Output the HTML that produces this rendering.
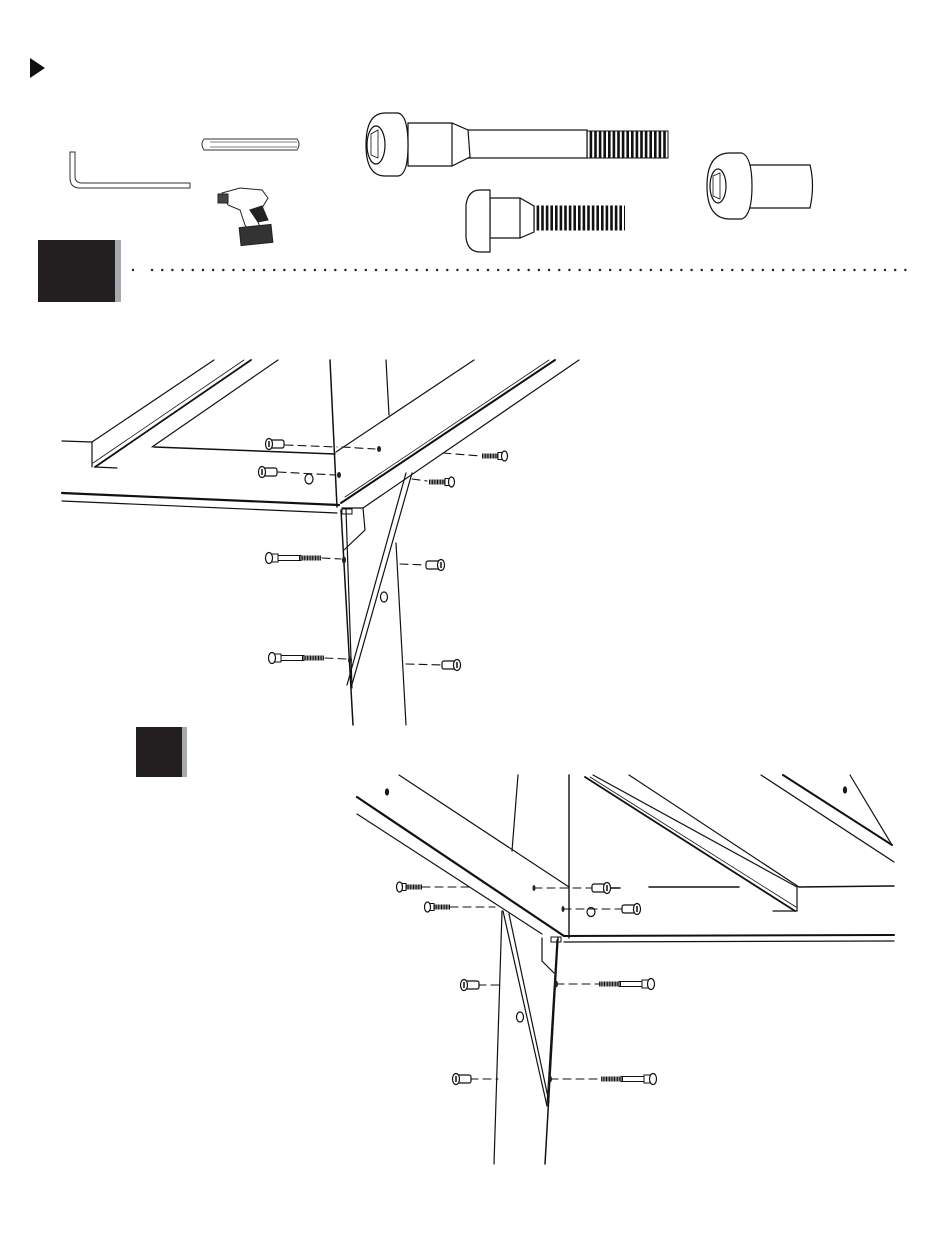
<!DOCTYPE html>
<html><head><meta charset="utf-8"><style>html,body{margin:0;padding:0;background:#fff}svg{display:block}</style></head>
<body>
<svg width="950" height="1241" viewBox="0 0 950 1241" xmlns="http://www.w3.org/2000/svg">
<defs>
  <g id="capL" fill="#fff" stroke="#111" stroke-width="1.2">
    <rect x="4" y="-4" width="15" height="8" rx="2"/>
    <ellipse cx="4" cy="0" rx="3.5" ry="5.5"/>
    <line x1="4" y1="-3" x2="4" y2="3" stroke-width="1.5"/>
  </g>
  <g id="shortL" stroke="#111">
    <line x1="9" y1="0" x2="26" y2="0" stroke-width="5" stroke-dasharray="1.1 0.5"/>
    <rect x="4" y="-3.5" width="6" height="7" fill="#fff" stroke-width="1"/>
    <ellipse cx="3.5" cy="0" rx="3" ry="5" fill="#fff" stroke-width="1.2"/>
  </g>
  <g id="longL" stroke="#111">
    <rect x="6" y="-2.5" width="30" height="5" fill="#fff" stroke-width="1"/>
    <line x1="34" y1="0" x2="56" y2="0" stroke-width="5" stroke-dasharray="1.1 0.5"/>
    <rect x="4" y="-4" width="9" height="8" fill="#fff" stroke-width="1"/>
    <ellipse cx="4" cy="0" rx="3.5" ry="5.5" fill="#fff" stroke-width="1.2"/>
  </g>
</defs>

<polygon points="30,58 45,68 30,78" fill="#111"/>

<path d="M70,152 L70,178 Q70,188 80,188 L190,188 L190,183 L82,183 Q75,183 75,176 L75,152 Z" fill="#fff" stroke="#333" stroke-width="1"/>
<path d="M204,139 L297,139 Q301,144 297,150 L204,150 Q200,144 204,139 Z" fill="#fff" stroke="#333" stroke-width="1"/>
<line x1="210" y1="142" x2="297" y2="142" stroke="#555" stroke-width="0.7"/>
<line x1="210" y1="147" x2="297" y2="147" stroke="#555" stroke-width="0.7"/>
<g stroke="#222" stroke-width="1" fill="#fff">
  <path d="M222,193 L240,188 L262,190 L268,198 L262,208 L250,210 L258,222 L262,232 L252,235 L245,225 L240,210 L228,205 Z"/>
  <rect x="240" y="226" width="32" height="18" fill="#333" transform="rotate(-6 256 235)"/>
  <path d="M250,210 L262,206 L268,220 L258,222 Z" fill="#222"/>
  <rect x="218" y="194" width="10" height="9" fill="#444"/>
</g>

<g stroke="#111" stroke-width="1.2" fill="#fff">
  <line x1="585" y1="144" x2="668" y2="144" stroke-width="27" stroke-dasharray="2.6 2"/>
  <rect x="586" y="131" width="82" height="27" fill="none" stroke-width="1"/>
  <rect x="465" y="130" width="122" height="28"/>
  <path d="M408,123 L452,123 L468,130 L470,157 L452,166 L408,166 Z"/>
  <line x1="452" y1="123" x2="452" y2="166"/>
  <path d="M398,113 Q408,115 408,145 Q408,175 398,176 L385,176 Q366,176 366,145 Q366,113 385,113 Z"/>
  <ellipse cx="376" cy="145" rx="9" ry="19"/>
  <path d="M371,134 L378,130 L378,158 L371,155 Z" stroke-width="0.8"/>
</g>
<g stroke="#111" stroke-width="1.2" fill="#fff">
  <line x1="532" y1="218" x2="625" y2="218" stroke-width="25" stroke-dasharray="2.6 2"/>
  <path d="M490,198 L520,198 L534,206 L534,232 L520,238 L490,238 Z"/>
  <line x1="520" y1="198" x2="520" y2="238"/>
  <path d="M480,190 Q468,190 466,205 L466,238 Q468,252 480,252 L490,252 L490,190 Z"/>
</g>
<g stroke="#111" stroke-width="1.2" fill="#fff">
  <path d="M745,165 L810,165 Q815,185 810,208 L745,208 Z"/>
  <path d="M742,153 Q752,157 752,186 Q752,215 742,219 L730,219 Q707,219 707,186 Q707,153 730,153 Z"/>
  <ellipse cx="718" cy="186" rx="8" ry="17"/>
  <path d="M713,176 L720,173 L720,199 L713,196 Z" stroke-width="0.8"/>
</g>

<rect x="38" y="240" width="77" height="62" fill="#231f20"/>
<rect x="115" y="240" width="6" height="62" fill="#a7a9ac"/>
<circle cx="133" cy="270" r="1.2" fill="#222"/>
<line x1="152" y1="270" x2="914" y2="270" stroke="#222" stroke-width="2.4" stroke-linecap="round" stroke-dasharray="0.1 10.08"/>

<g stroke="#111" stroke-width="1.2" fill="none" stroke-linecap="round">
  <line x1="214" y1="360" x2="92" y2="442"/>
  <line x1="251" y1="360" x2="95" y2="467" stroke-width="1.8"/>
  <line x1="244" y1="360" x2="93" y2="463" stroke-width="0.8"/>
  <line x1="278" y1="360" x2="152" y2="447"/>
  <line x1="92" y1="442" x2="92" y2="467"/>
  <line x1="95" y1="467" x2="117" y2="468"/>
  <line x1="62" y1="441" x2="92" y2="442"/>
  <line x1="154" y1="447" x2="335" y2="454" stroke-width="1.5"/>
  <line x1="62" y1="493" x2="339" y2="505" stroke-width="2.2"/>
  <line x1="62" y1="501" x2="337" y2="513"/>
  <line x1="330" y1="360" x2="337" y2="507" stroke-width="1.5"/>
  <line x1="386" y1="360" x2="389" y2="415"/>
  <line x1="336" y1="452" x2="474" y2="360"/>
  <line x1="341" y1="503" x2="555" y2="360" stroke-width="2"/>
  <line x1="345" y1="497" x2="549" y2="360" stroke-width="0.8"/>
  <line x1="363" y1="508" x2="579" y2="360"/>
  <path d="M342,508 L363,508 L365,530 L344,550"/>
  <rect x="342" y="509" width="10" height="5" stroke-width="1"/>
  <line x1="341" y1="510" x2="353" y2="725" stroke-width="1.5"/>
  <line x1="346" y1="510" x2="352" y2="688"/>
  <line x1="396" y1="543" x2="406" y2="725"/>
  <line x1="412" y1="473" x2="351" y2="688"/>
  <line x1="406" y1="473" x2="347" y2="685"/>
  <ellipse cx="384" cy="597" rx="3.5" ry="5"/>
  <ellipse cx="309" cy="479" rx="4" ry="5"/>
  <g stroke-dasharray="8 5" stroke-width="1.1">
    <line x1="285" y1="445" x2="337" y2="447"/>
    <line x1="342" y1="447" x2="375" y2="449"/>
    <line x1="278" y1="472" x2="335" y2="475"/>
    <line x1="443" y1="453" x2="481" y2="456"/>
    <line x1="412" y1="479" x2="427" y2="481"/>
    <line x1="322" y1="558" x2="341" y2="559"/>
    <line x1="400" y1="564" x2="427" y2="565"/>
    <line x1="325" y1="658" x2="346" y2="659"/>
    <line x1="406" y1="664" x2="443" y2="665"/>
  </g>
  <g fill="#222" stroke="none">
    <ellipse cx="379" cy="449" rx="2" ry="3"/>
    <ellipse cx="339" cy="475" rx="2" ry="3"/>
    <ellipse cx="344" cy="560" rx="2" ry="3.5"/>
    <ellipse cx="350" cy="660" rx="2" ry="3.5"/>
  </g>
</g>
<use href="#capL" transform="translate(265,444)"/>
<use href="#capL" transform="translate(258,472)"/>
<use href="#shortL" transform="translate(508,456) scale(-1,1)"/>
<use href="#shortL" transform="translate(455,482) scale(-1,1)"/>
<use href="#longL" transform="translate(265,558)"/>
<use href="#longL" transform="translate(268,658)"/>
<use href="#capL" transform="translate(445,565) scale(-1,1)"/>
<use href="#capL" transform="translate(461,665) scale(-1,1)"/>

<rect x="136" y="727" width="46" height="50" fill="#231f20"/>
<rect x="182" y="727" width="5" height="50" fill="#a7a9ac"/>

<g stroke="#111" stroke-width="1.2" fill="none" stroke-linecap="round">
  <line x1="399" y1="775" x2="569" y2="887"/>
  <line x1="357" y1="797" x2="564" y2="936" stroke-width="2.2"/>
  <line x1="357" y1="814" x2="542" y2="934"/>
  <line x1="569" y1="887" x2="569" y2="938" stroke-width="1.4"/>
  <ellipse cx="387" cy="792" rx="1.5" ry="3" fill="#222"/>
  <line x1="518" y1="775" x2="512" y2="851"/>
  <line x1="502" y1="911" x2="494" y2="1164"/>
  <line x1="569" y1="775" x2="569" y2="887" stroke-width="1.4"/>
  <line x1="558" y1="938" x2="545" y2="1164" stroke-width="1.5"/>
  <line x1="503" y1="911" x2="547" y2="1106"/>
  <line x1="509" y1="914" x2="549" y2="1102"/>
  <line x1="557" y1="940" x2="547" y2="1106"/>
  <path d="M542,938 L542,961 L554,973"/>
  <rect x="551" y="937" width="10" height="5" stroke-width="1"/>
  <ellipse cx="520" cy="1017" rx="3.5" ry="5"/>
  <line x1="593" y1="775" x2="797" y2="887"/>
  <line x1="585" y1="777" x2="795" y2="911" stroke-width="1.8"/>
  <line x1="590" y1="777" x2="796" y2="907" stroke-width="0.8"/>
  <line x1="629" y1="775" x2="799" y2="887"/>
  <line x1="797" y1="887" x2="797" y2="911"/>
  <line x1="773" y1="911" x2="797" y2="911"/>
  <line x1="799" y1="887" x2="894" y2="886" stroke-width="1.5"/>
  <line x1="649" y1="887" x2="739" y2="887" stroke-width="1.5"/>
  <line x1="564" y1="936" x2="894" y2="935" stroke-width="2"/>
  <line x1="564" y1="942" x2="894" y2="941"/>
  <line x1="761" y1="775" x2="894" y2="862"/>
  <line x1="783" y1="775" x2="892" y2="845" stroke-width="2"/>
  <line x1="850" y1="775" x2="892" y2="845"/>
  <ellipse cx="845" cy="790" rx="1.5" ry="3" fill="#222"/>
  <ellipse cx="591" cy="912" rx="4" ry="4.5"/>
  <g stroke-dasharray="8 5" stroke-width="1.1">
    <line x1="422" y1="887" x2="470" y2="887"/>
    <line x1="450" y1="907" x2="495" y2="907"/>
    <line x1="534" y1="888" x2="593" y2="888"/>
    <line x1="563" y1="909" x2="622" y2="909"/>
    <line x1="478" y1="985" x2="500" y2="985"/>
    <line x1="470" y1="1079" x2="498" y2="1079"/>
    <line x1="556" y1="984" x2="600" y2="984"/>
    <line x1="550" y1="1079" x2="602" y2="1079"/>
  </g>
  <line x1="609" y1="888" x2="620" y2="888" stroke-width="1.5"/>
  <g fill="#222" stroke="none">
    <ellipse cx="534" cy="888" rx="1.5" ry="3"/>
    <ellipse cx="563" cy="909" rx="1.5" ry="3"/>
    <ellipse cx="556" cy="984" rx="2" ry="3.5"/>
    <ellipse cx="550" cy="1079" rx="2" ry="3.5"/>
  </g>
</g>
<use href="#shortL" transform="translate(396,887)"/>
<use href="#shortL" transform="translate(424,907)"/>
<use href="#capL" transform="translate(611,888) scale(-1,1)"/>
<use href="#capL" transform="translate(641,909) scale(-1,1)"/>
<use href="#capL" transform="translate(460,985)"/>
<use href="#capL" transform="translate(452,1079)"/>
<use href="#longL" transform="translate(655,984) scale(-1,1)"/>
<use href="#longL" transform="translate(657,1079) scale(-1,1)"/>
</svg>
</body></html>
